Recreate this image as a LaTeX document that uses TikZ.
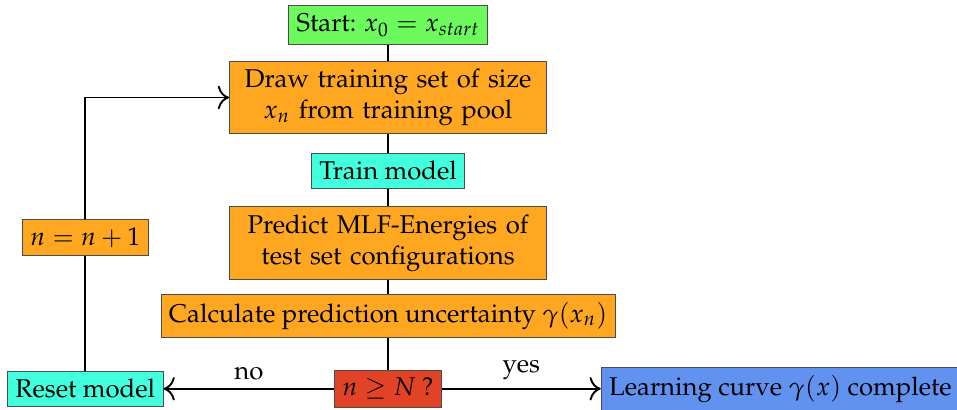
\documentclass[tikz,border=0pt]{standalone}
\usepackage[T1]{fontenc}
\usepackage{amsmath, amssymb}
\usepackage{mathpazo}
\usetikzlibrary{arrows.meta}

\definecolor{startgreen}{RGB}{108,250,92}
\definecolor{boxorange}{RGB}{255,167,32}
\definecolor{boxcyan}{RGB}{66,255,222}
\definecolor{boxred}{RGB}{226,66,38}
\definecolor{boxblue}{RGB}{98,146,240}

\tikzset{
  flowbox/.style={draw=black!70, rectangle, align=center, font=\fontsize{10.8}{13}\selectfont},
  link/.style={thick, >={To[scale=1.4]}}
}

\begin{document}
\begin{tikzpicture}
\useasboundingbox (-5.73,-0.31) rectangle (8.40,5.74);
\node[flowbox, fill=startgreen] (S) at (0,5.37) {Start: $x_0 = x_{start}$};
\node[flowbox, fill=boxorange, text width=4.45cm] (D) at (0,4.30) {Draw training set of size\\ $x_n$ from training pool};
\node[flowbox, fill=boxcyan] (T) at (0,3.22) {Train model};
\node[flowbox, fill=boxorange, text width=4.45cm] (P) at (0,2.15) {Predict MLF-Energies of\\ test set configurations};
\node[flowbox, fill=boxorange] (C) at (0,1.08) {Calculate prediction uncertainty $\gamma(x_n)$};
\node[flowbox, fill=boxred] (Q) at (0,0) {$n \geq N$ ?};
\node[flowbox, fill=boxcyan] (R) at (-4.47,0) {Reset model};
\node[flowbox, fill=boxorange] (I) at (-4.47,2.23) {$n = n+1$};
\node[flowbox, fill=boxblue, anchor=west] (L) at (3.14,0) {Learning curve $\gamma(x)$ complete};
\draw[link] (S) -- (D);
\draw[link] (D) -- (T);
\draw[link] (T) -- (P);
\draw[link] (P) -- (C);
\draw[link] (C) -- (Q);
\draw[link, ->] (Q) -- node[above, font=\fontsize{10.8}{13}\selectfont] {no} (R);
\draw[link, ->] (Q) -- node[above, font=\fontsize{10.8}{13}\selectfont] {yes} (L);
\draw[link] (R) -- (I);
\draw[link, ->] (I) |- (D);
\end{tikzpicture}
\end{document}
